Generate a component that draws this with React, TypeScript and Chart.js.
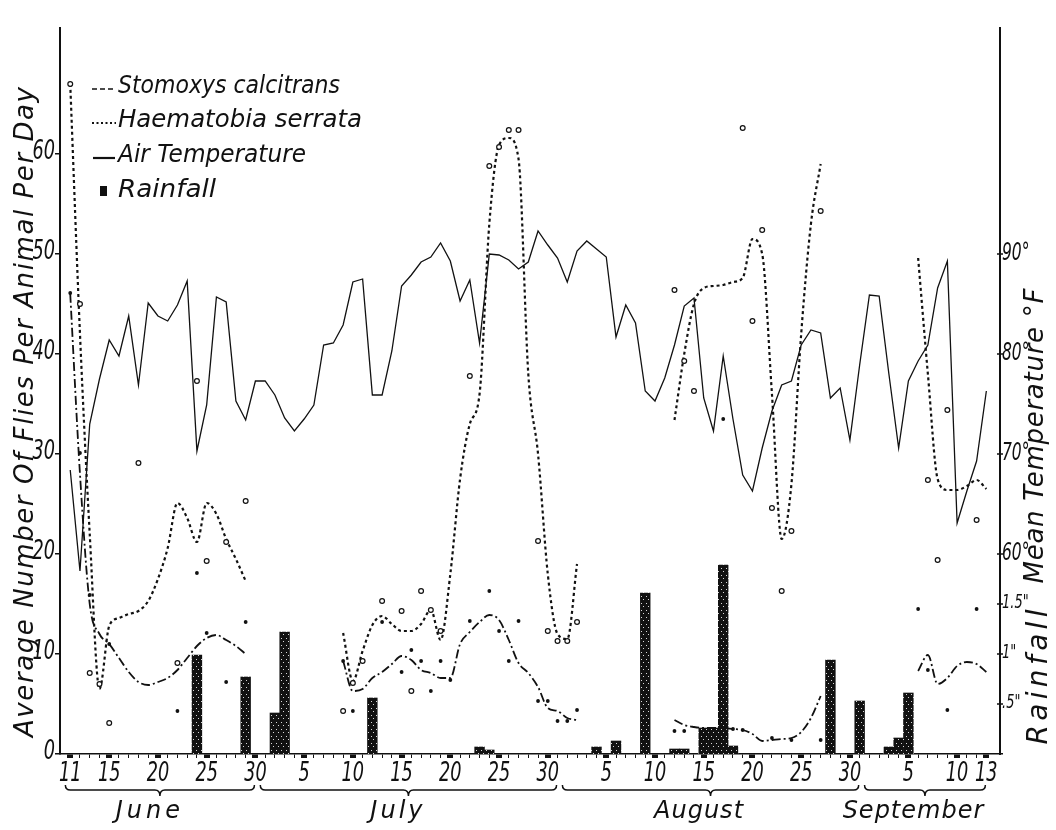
import React, { useEffect, useRef } from 'react';
import { Chart, registerables } from 'chart.js';

Chart.register(...registerables);

// ---- Data (day index 0 = June 11, 94 = September 13) ----
const tempF = [
  68.4, 58.3, 73.0, 77.5, 81.4, 79.8, 83.8, 76.9, 85.1, 83.8,
  83.3, 84.9, 87.3, 70.3, 74.9, 85.7, 85.2, 75.3, 73.4, 77.3,
  77.3, 75.9, 73.6, 72.3, 73.5, 74.9, 80.9, 81.1, 82.9, 87.2,
  87.5, 75.9, 75.9, 80.3, 86.8, 87.9, 89.2, 89.7, 91.1, 89.3,
  85.3, 87.4, 81.1, 90.0, 89.9, 89.4, 88.5, 89.2, 92.3, 90.9,
  89.6, 87.2, 90.3, 91.3, 90.5, 89.7, 81.7, 84.9, 83.1, 76.3,
  75.3, 77.6, 80.9, 84.8, 85.6, 75.6, 72.3, 79.8, 73.5, 67.9,
  66.3, 70.6, 74.3, 76.9, 77.3, 80.9, 82.4, 82.1, 75.6, 76.6,
  71.4, 78.9, 85.9, 85.8, 78.0, 70.6, 77.3, 79.3, 80.9, 86.6,
  89.3, 63.1, 66.3, 69.3, 76.3,
];

const haemSegStart = [0, 28, 62, 87];
const haemSegVals = [
  [67, 42, 22, 6.5, 12.8, 13.6, 14, 14.3, 15.3, 17.5, 20.6, 25.1, 23.6, 21.2, 25.1, 24, 21.5, 19.5, 17.3],
  [12.1, 7.3, 10.3, 12.9, 13.8, 13, 12.3, 12.3, 13, 14.4, 11.4, 18, 27.5, 33, 36, 53, 60.9, 61.6, 59.5, 38, 30, 18, 12, 11.5, 19],
  [33.4, 40, 45, 46.6, 46.8, 46.9, 47.2, 47.6, 51.5, 50, 36, 21.5, 27, 42, 53, 59],
  [49.6, 38, 27.5, 26.4, 26.4, 26.8, 27.4, 26.5],
];

const stomSegStart = [0, 28, 62, 87];
const stomSegVals = [
  [46, 28, 15, 12, 11, 9.6, 8.2, 7.2, 6.9, 7.2, 7.6, 8.4, 9.6, 10.8, 11.6, 11.9, 11.4, 10.8, 10.0],
  [9.3, 6.3, 6.5, 7.6, 8.2, 9.0, 9.8, 9.4, 8.4, 8.1, 7.6, 7.6, 11, 12.2, 13.2, 13.9, 13.4, 11.4, 9.1, 8.1, 6.7, 4.6, 4.3, 3.6, 3.4],
  [3.4, 2.9, 2.7, 2.6, 2.6, 2.6, 2.5, 2.4, 2.0, 1.3, 1.4, 1.5, 1.6, 2.2, 3.6, 5.8],
  [8.3, 9.9, 7.0, 7.6, 8.8, 9.2, 9.0, 8.2],
];

const haemObsDays = [0, 1, 2, 3, 4, 7, 11, 13, 14, 16, 18,
  28, 29, 30, 32, 34, 35, 36, 37, 38, 41, 43, 44, 45, 46, 48, 49, 50, 51, 52,
  62, 63, 64, 69, 70, 71, 72, 73, 74, 77,
  88, 89, 90, 93];
const haemObsVals = [67, 45, 8.1, 7, 3.1, 29.1, 9.1, 37.3, 19.3, 21.2, 25.3,
  4.3, 7.1, 9.3, 15.3, 14.3, 6.3, 16.3, 14.4, 12.3, 37.8, 58.8, 60.7, 62.4, 62.4, 21.3, 12.3, 11.3, 11.3, 13.2,
  46.4, 39.3, 36.3, 62.6, 43.3, 52.4, 24.6, 16.3, 22.3, 54.3,
  27.4, 19.4, 34.4, 23.4];

const stomObsDays = [0, 1, 2, 4, 11, 13, 14, 16, 18,
  28, 29, 32, 34, 35, 36, 37, 38, 39, 41, 43, 44, 45, 46, 48, 49, 50, 51, 52,
  62, 63, 67, 68, 69, 72, 74, 77,
  87, 88, 90, 93];
const stomObsVals = [46.1, 30.1, 15.9, 11, 4.3, 18.1, 12.1, 7.2, 13.2,
  9.3, 4.3, 13.2, 8.2, 10.4, 9.3, 6.3, 9.3, 7.4, 13.3, 16.3, 12.3, 9.3, 13.3, 5.3, 5.3, 3.3, 3.3, 4.4,
  2.3, 2.3, 33.5, 2.5, 2.4, 1.6, 1.4, 1.4,
  14.5, 8.4, 4.4, 14.5];

const rainDays = [13, 18, 21, 22, 31, 42, 43, 54, 56, 59, 62, 63, 65, 66, 67, 68, 78, 81, 84, 85, 86];
const rainInches = [0.99, 0.77, 0.41, 1.22, 0.56, 0.07, 0.04, 0.07, 0.13, 1.61, 0.05, 0.05, 0.26, 0.26, 1.89, 0.08, 0.94, 0.53, 0.07, 0.16, 0.61];

const majorDays = [0, 4, 9, 14, 19, 24, 29, 34, 39, 44, 49, 55, 60, 65, 70, 75, 80, 86, 91, 94];
const majorLabels = ['11', '15', '20', '25', '30', '5', '10', '15', '20', '25', '30', '5', '10', '15', '20', '25', '30', '5', '10', '13'];

const monthNames = ['June', 'July', 'August', 'September'];
const monthFirst = [0, 20, 51, 82];
const monthLast = [19, 50, 81, 94];

const leftTicks = [0, 10, 20, 30, 40, 50, 60];
const tempTicks = [60, 70, 80, 90];
const rainTicks = [0.5, 1, 1.5];
const rainTickLabels = ['.5"', '1"', '1.5"'];

const legendLabels = ['Stomoxys calcitrans', 'Haematobia serrata', 'Air Temperature', 'Rainfall'];
const leftTitle = 'Average Number Of Flies Per Animal Per Day';
const tempTitle = 'Mean Temperature °F';
const rainTitle = 'Rainfall';

// axis mapping constants
const Y_MAX = 72.6;
const TEMP_OFFSET = 40; // °F shown at left value 0
const RAIN_SCALE = 10; // left units per inch
const X_MIN = -1.05;
const X_MAX = 95.4;
const NDAYS = tempF.length;

const FONT = '"DejaVu Sans", sans-serif';
const INK = '#111';

function drawText(ctx: any, s: string, x: number, y: number, o: any = {}) {
  const size = o.size || 24;
  ctx.save();
  ctx.translate(x, y);
  if (o.rot) ctx.rotate(o.rot);
  ctx.font = `italic ${size}px ${FONT}`;
  ctx.letterSpacing = '0px';
  let sx = o.sx || 1;
  let sp = o.spacing || 0;
  const w = ctx.measureText(s).width;
  if (o.fitScale) sx = o.fitScale / w;
  if (o.fitSpace) sp = (o.fitSpace - w) / Math.max(1, s.length - 1);
  ctx.letterSpacing = sp + 'px';
  ctx.scale(sx, 1);
  ctx.textAlign = o.align || 'left';
  ctx.textBaseline = o.base || 'middle';
  ctx.fillStyle = INK;
  ctx.fillText(s, o.align === 'center' ? sp / 2 : 0, 0);
  ctx.restore();
}

function brace(ctx: any, x0: number, x1: number, xm: number, yb: number) {
  ctx.beginPath();
  ctx.moveTo(x0, yb - 5);
  ctx.quadraticCurveTo(x0, yb, x0 + 5, yb);
  ctx.lineTo(xm - 5, yb);
  ctx.quadraticCurveTo(xm, yb, xm, yb + 6);
  ctx.quadraticCurveTo(xm, yb, xm + 5, yb);
  ctx.lineTo(x1 - 5, yb);
  ctx.quadraticCurveTo(x1, yb, x1, yb - 5);
  ctx.stroke();
}

const decoPlugin = {
  id: 'deco',
  afterDraw(chart: any) {
    const { ctx, chartArea: ca, scales } = chart;
    const xs = scales.x;
    const ys = scales.y;
    ctx.save();
    ctx.strokeStyle = INK;
    ctx.fillStyle = INK;

    // left tick labels
    leftTicks.forEach((v) => {
      drawText(ctx, String(v), ca.left - 5, ys.getPixelForValue(v) - 2, { size: 26, sx: 0.68, align: 'right' });
    });

    // right ticks + labels
    ctx.lineWidth = 1.5;
    const rTick = (py: number) => {
      ctx.beginPath();
      ctx.moveTo(ca.right - 3, py);
      ctx.lineTo(ca.right + 3, py);
      ctx.stroke();
    };
    tempTicks.forEach((t) => {
      const py = ys.getPixelForValue(t - TEMP_OFFSET);
      rTick(py);
      drawText(ctx, t + '°', ca.right + 2, py - 1, { size: 25, sx: 0.62 });
    });
    rainTicks.forEach((r, i) => {
      const py = ys.getPixelForValue(r * RAIN_SCALE);
      rTick(py);
      drawText(ctx, rainTickLabels[i], ca.right + 2, py - 1, { size: 20, sx: 0.65 });
    });

    // x tick labels
    majorDays.forEach((d, i) => {
      drawText(ctx, majorLabels[i], xs.getPixelForValue(d), ca.bottom + 20, { size: 26, sx: 0.68, align: 'center' });
    });

    // month braces and names
    ctx.lineWidth = 1.5;
    monthNames.forEach((m, i) => {
      const a = xs.getPixelForValue(monthFirst[i] - 0.5);
      const b = xs.getPixelForValue(monthLast[i] - 0.1);
      const mid = (a + b) / 2;
      brace(ctx, a, b, mid, ca.bottom + 36);
      drawText(ctx, m, mid - 12, ca.bottom + 58, { size: 24, align: 'center', spacing: i === 0 ? 4 : i === 1 ? 3 : 1 });
    });

    // axis titles
    drawText(ctx, leftTitle, ca.left - 34, ys.getPixelForValue(34.2), { size: 26, rot: -Math.PI / 2, align: 'center', fitSpace: 650 });
    drawText(ctx, tempTitle, ca.right + 36, ys.getPixelForValue(31.8), { size: 26, rot: -Math.PI / 2, align: 'center', fitSpace: 295 });
    drawText(ctx, rainTitle, ca.right + 40, ys.getPixelForValue(7.7), { size: 28, rot: -Math.PI / 2, align: 'center', fitSpace: 135 });

    // legend
    const lx0 = ca.left + 32;
    const lx1 = ca.left + 56;
    const tx = ca.left + 58;
    const rows = [ca.top + 65, ca.top + 99, ca.top + 134, ca.top + 169];
    ctx.lineWidth = 1.6;
    ctx.setLineDash([5, 3]);
    ctx.beginPath(); ctx.moveTo(lx0, rows[0] - 4); ctx.lineTo(lx1, rows[0] - 4); ctx.stroke();
    ctx.lineWidth = 2.2;
    ctx.setLineDash([2, 2.5]);
    ctx.beginPath(); ctx.moveTo(lx0, rows[1] - 4); ctx.lineTo(lx1, rows[1] - 4); ctx.stroke();
    ctx.setLineDash([]);
    ctx.beginPath(); ctx.moveTo(lx0 + 1, rows[2] - 4); ctx.lineTo(lx1 - 1, rows[2] - 4); ctx.stroke();
    ctx.fillRect(lx0 + 8, rows[3] - 11, 7, 10);
    const fits = [222, 244, 188, 98];
    legendLabels.forEach((s, i) => {
      drawText(ctx, s, tx, rows[i], { size: 25, base: 'alphabetic', fitScale: fits[i] });
    });
    ctx.restore();
  },
};

export default function App() {
  const ref = useRef<HTMLCanvasElement>(null);

  useEffect(() => {
    document.body.style.margin = '0';
    const canvas = ref.current as HTMLCanvasElement;
    const c2d = canvas.getContext('2d') as CanvasRenderingContext2D;

    // stippled fill for rainfall bars
    const pc = document.createElement('canvas');
    pc.width = 5;
    pc.height = 7;
    const p = pc.getContext('2d') as CanvasRenderingContext2D;
    p.fillStyle = '#111';
    p.fillRect(0, 0, 5, 7);
    p.fillStyle = '#d8d8d8';
    p.fillRect(1, 1, 1, 1);
    p.fillRect(3, 4, 1, 1);
    const pattern = c2d.createPattern(pc, 'repeat') || '#111';

    const datasets: any[] = [];

    datasets.push({
      type: 'bar',
      label: 'Rainfall',
      data: rainDays.map((d, i) => ({ x: d, y: rainInches[i] })),
      yAxisID: 'yR',
      backgroundColor: pattern,
      borderWidth: 0,
      barPercentage: 1,
      categoryPercentage: 1,
      order: 10,
    });

    datasets.push({
      type: 'line',
      label: 'Air Temperature',
      data: tempF.map((t, i) => ({ x: i, y: t })),
      yAxisID: 'yT',
      borderColor: INK,
      borderWidth: 1.3,
      pointRadius: 0,
      tension: 0,
      fill: false,
      order: 8,
    });

    haemSegVals.forEach((vals, s) => {
      datasets.push({
        type: 'line',
        label: 'Haematobia serrata',
        data: vals.map((v, i) => ({ x: haemSegStart[s] + i, y: v })),
        yAxisID: 'y',
        borderColor: INK,
        borderWidth: 2.2,
        borderDash: [3, 3],
        cubicInterpolationMode: 'monotone',
        pointRadius: 0,
        fill: false,
        order: 6,
      });
    });

    stomSegVals.forEach((vals, s) => {
      datasets.push({
        type: 'line',
        label: 'Stomoxys calcitrans',
        data: vals.map((v, i) => ({ x: stomSegStart[s] + i, y: v })),
        yAxisID: 'y',
        borderColor: INK,
        borderWidth: 1.8,
        borderDash: [9, 3, 2, 3],
        cubicInterpolationMode: 'monotone',
        pointRadius: 0,
        fill: false,
        order: 6,
      });
    });

    datasets.push({
      type: 'scatter',
      label: 'Haematobia observations',
      data: haemObsDays.map((d, i) => ({ x: d, y: haemObsVals[i] })),
      yAxisID: 'y',
      pointRadius: 2.4,
      pointBackgroundColor: '#fff',
      pointBorderColor: INK,
      pointBorderWidth: 1.2,
      order: 2,
    });

    datasets.push({
      type: 'scatter',
      label: 'Stomoxys observations',
      data: stomObsDays.map((d, i) => ({ x: d, y: stomObsVals[i] })),
      yAxisID: 'y',
      pointRadius: 1.9,
      pointBackgroundColor: INK,
      pointBorderColor: INK,
      pointBorderWidth: 0,
      order: 1,
    });

    const allDays = Array.from({ length: NDAYS }, (_, i) => i);

    const chart = new Chart(canvas, {
      type: 'line',
      data: { datasets },
      options: {
        responsive: false,
        animation: false,
        devicePixelRatio: 1,
        events: [],
        layout: { padding: { top: 28, left: 0, right: 0, bottom: 0 } },
        plugins: { legend: { display: false }, tooltip: { enabled: false } },
        scales: {
          x: {
            type: 'linear',
            min: X_MIN,
            max: X_MAX,
            offset: false,
            afterBuildTicks: (s: any) => {
              s.ticks = allDays.map((v) => ({ value: v }));
            },
            afterFit: (s: any) => {
              s.height = 76;
            },
            ticks: { display: false, autoSkip: false },
            grid: {
              offset: false,
              drawOnChartArea: false,
              drawTicks: true,
              tickLength: 4,
              color: INK,
              lineWidth: (c: any) => (c.tick && majorDays.includes(c.tick.value) ? 6 : 1),
            },
            border: { display: true, color: INK, width: 1.5 },
          },
          y: {
            type: 'linear',
            position: 'left',
            min: 0,
            max: Y_MAX,
            afterBuildTicks: (s: any) => {
              s.ticks = leftTicks.map((v) => ({ value: v }));
            },
            afterFit: (s: any) => {
              s.width = 60;
            },
            ticks: { display: false },
            grid: { drawOnChartArea: false, drawTicks: true, tickLength: 5, color: INK, lineWidth: 1.5 },
            border: { display: true, color: INK, width: 2 },
          },
          yRight: {
            type: 'linear',
            position: 'right',
            min: 0,
            max: Y_MAX,
            afterBuildTicks: (s: any) => {
              s.ticks = tempTicks.map((t) => ({ value: t - TEMP_OFFSET }));
            },
            afterFit: (s: any) => {
              s.width = 56;
            },
            ticks: { display: false },
            grid: { display: false },
            border: { display: true, color: INK, width: 2 },
          },
          yT: { type: 'linear', display: false, min: TEMP_OFFSET, max: TEMP_OFFSET + Y_MAX },
          yR: { type: 'linear', display: false, min: 0, max: Y_MAX / RAIN_SCALE },
        },
      } as any,
      plugins: [decoPlugin],
    });

    return () => chart.destroy();
  }, []);

  return <canvas ref={ref} width={1056} height={830} style={{ display: 'block' }} />;
}
